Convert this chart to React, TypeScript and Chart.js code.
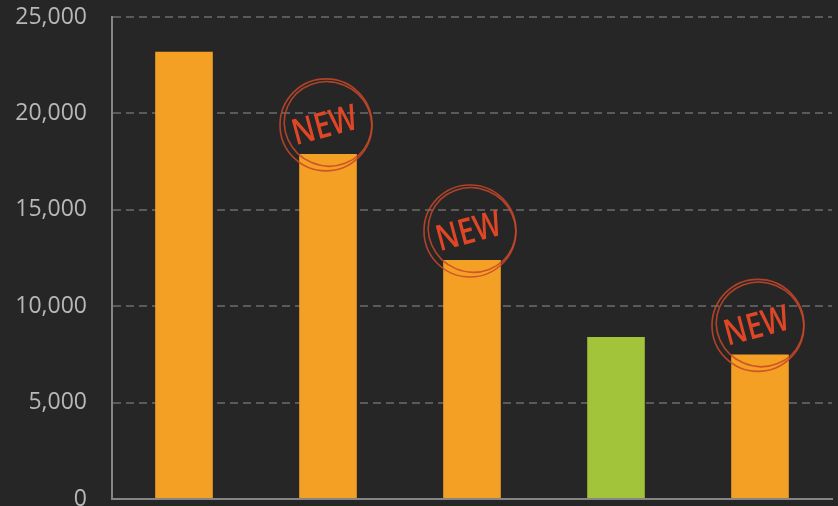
import React, { useEffect, useRef } from "react";
import { Chart, registerables } from "chart.js";

Chart.register(...registerables);

const categories = ["Item 1", "Item 2", "Item 3", "Item 4", "Item 5"];
const values = [23200, 17900, 12400, 8400, 7500];
const barColors = ["#F4A024", "#F4A024", "#F4A024", "#A2C43A", "#F4A024"];
const isNew = [false, true, true, false, true];
const yTicks = [0, 5000, 10000, 15000, 20000, 25000];

const stampPlugin = {
  id: "newStamps",
  afterDatasetsDraw(chart: any) {
    const meta = chart.getDatasetMeta(0);
    const ctx = chart.ctx as CanvasRenderingContext2D;
    meta.data.forEach((bar: any, i: number) => {
      if (!isNew[i]) return;
      const cx = bar.x - 2;
      const cy = bar.y - 29;
      ctx.save();
      ctx.strokeStyle = "rgba(200,72,42,0.85)";
      ctx.lineWidth = 1.6;
      ctx.beginPath();
      ctx.arc(cx, cy, 46, 0, Math.PI * 2);
      ctx.stroke();
      ctx.beginPath();
      ctx.ellipse(cx + 2, cy - 1, 44, 42, 0.4, 0, Math.PI * 2);
      ctx.stroke();
      ctx.translate(cx - 1, cy + 2);
      ctx.rotate((-15 * Math.PI) / 180);
      ctx.scale(0.8, 1);
      ctx.fillStyle = "#DE4626";
      ctx.font = '600 36px "Open Sans"';
      ctx.textAlign = "center";
      ctx.textBaseline = "middle";
      ctx.fillText("NEW", 0, 0);
      ctx.restore();
    });
  },
};

export default function App() {
  const ref = useRef<HTMLCanvasElement>(null);
  useEffect(() => {
    if (!ref.current) return;
    const chart = new Chart(ref.current, {
      type: "bar",
      data: {
        labels: categories,
        datasets: [
          {
            data: values,
            backgroundColor: barColors,
            barPercentage: 0.5,
            categoryPercentage: 0.8,
          },
        ],
      },
      options: {
        animation: false,
        responsive: false,
        layout: { padding: { top: 17, right: 6, left: 0, bottom: 0 } },
        plugins: { legend: { display: false }, tooltip: { enabled: false } },
        scales: {
          x: {
            grid: { display: false },
            ticks: { display: false },
            border: { display: true, color: "#858585", width: 2 },
            afterFit(scale: any) {
              scale.height = 61;
            },
          },
          y: {
            min: 0,
            max: 25000,
            afterBuildTicks(scale: any) {
              scale.ticks = yTicks.map((v) => ({ value: v }));
            },
            grid: { color: "#5a5a5a", lineWidth: 2, drawTicks: false },
            border: { display: true, color: "#858585", width: 2, dash: [8, 5] },
            ticks: {
              padding: 25,
              color: "#b8b8b8",
              font: { family: "Open Sans", size: 23 },
              callback: (v: any) => Number(v).toLocaleString("en-US"),
            },
            afterFit(scale: any) {
              scale.width = 112;
              scale.paddingTop = 0;
              scale.paddingBottom = 0;
            },
          },
        },
      },
      plugins: [stampPlugin],
    });
    return () => chart.destroy();
  }, []);
  return (
    <div
      style={{
        position: "fixed",
        left: 0,
        top: 0,
        width: 838,
        height: 506,
        overflow: "hidden",
        background: "#262626",
      }}
    >
      <canvas ref={ref} width={838} height={560} style={{ display: "block" }} />
    </div>
  );
}
